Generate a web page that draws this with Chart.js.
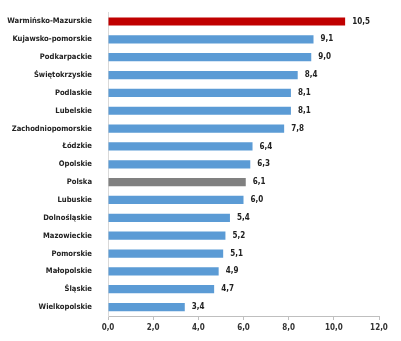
<!DOCTYPE html>
<html><head><meta charset="utf-8">
<script src="https://cdn.jsdelivr.net/npm/chart.js@4/dist/chart.umd.min.js"></script>
<style>html,body{margin:0;padding:0;background:#fff}#wrap{width:401px;height:341px}</style>
</head><body><div id="wrap"><canvas id="c" width="401" height="341"></canvas></div>
<script>
const categories = ["Warmińsko-Mazurskie","Kujawsko-pomorskie","Podkarpackie","Świętokrzyskie","Podlaskie","Lubelskie","Zachodniopomorskie","Łódzkie","Opolskie","Polska","Lubuskie","Dolnośląskie","Mazowieckie","Pomorskie","Małopolskie","Śląskie","Wielkopolskie"];
const values = [10.5,9.1,9.0,8.4,8.1,8.1,7.8,6.4,6.3,6.1,6.0,5.4,5.2,5.1,4.9,4.7,3.4];
const xTicks = [0,2,4,6,8,10,12];
const colors = categories.map(c => c === "Warmińsko-Mazurskie" ? "#c00000" : (c === "Polska" ? "#808080" : "#5b9bd5"));
const FONT = "'Liberation Sans Narrow','DejaVu Sans Condensed','Liberation Sans',sans-serif";
const fmt = v => v.toFixed(1).replace('.', ',');

const valueLabels = {
  id: 'valueLabels',
  afterDatasetsDraw(chart) {
    const ctx = chart.ctx;
    const meta = chart.getDatasetMeta(0);
    ctx.save();
    ctx.font = "bold 8px " + FONT;
    ctx.fillStyle = "#222";
    ctx.textAlign = "left";
    ctx.textBaseline = "middle";
    meta.data.forEach((bar, i) => {
      ctx.fillText(fmt(values[i]), bar.x + 7, bar.y);
    });
    ctx.restore();
  }
};

new Chart(document.getElementById('c'), {
  type: 'bar',
  data: { labels: categories, datasets: [{ data: values, backgroundColor: colors, categoryPercentage: 1, barPercentage: 0.46 }] },
  options: {
    indexAxis: 'y', responsive: false, animation: false, devicePixelRatio: 1,
    layout: { padding: { top: 12, right: 22, bottom: 0, left: 0 } },
    plugins: { legend: { display: false }, tooltip: { enabled: false } },
    scales: {
      x: {
        min: 0, max: 12,
        afterBuildTicks: s => { s.ticks = xTicks.map(v => ({ value: v })); },
        afterFit: s => { s.height = 25; },
        grid: { drawOnChartArea: false, drawTicks: true, tickLength: 4, color: '#bfbfbf' },
        border: { color: '#bfbfbf' },
        ticks: { font: { family: FONT, size: 8, weight: 'bold' }, color: '#333', padding: 3, maxRotation: 0, callback: v => fmt(v) }
      },
      y: {
        afterFit: s => { s.width = 108; },
        grid: { display: false },
        border: { color: '#d9d9d9' },
        ticks: { font: { family: FONT, size: 7.6, weight: 'bold' }, color: '#222', padding: 8, autoSkip: false }
      }
    }
  },
  plugins: [valueLabels]
});
</script></body></html>
